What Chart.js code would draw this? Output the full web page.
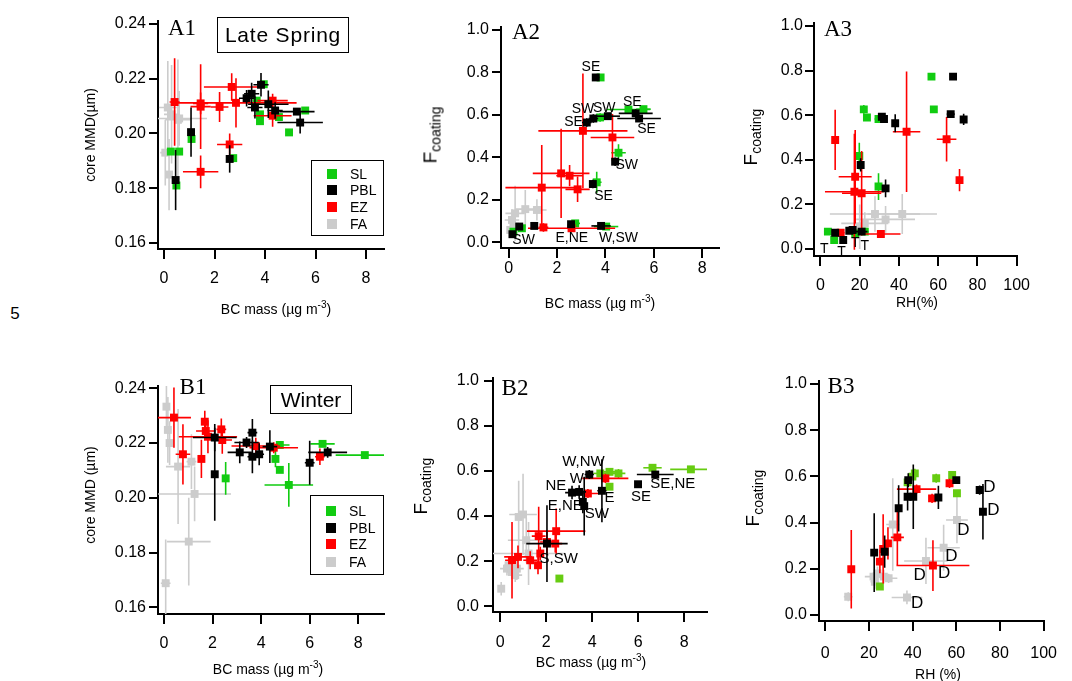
<!DOCTYPE html>
<html>
<head>
<meta charset="utf-8">
<script src="https://cdn.jsdelivr.net/npm/chart.js@4.4.0/dist/chart.umd.min.js"></script>
<style>
  body { margin: 0; background: #fff; width: 1072px; height: 681px; position: relative; overflow: hidden;
         font-family: 'Liberation Sans', Arial, sans-serif; color: #000; }
  canvas { position: absolute; }
  .t { position: absolute; white-space: nowrap; font-size: 14px; line-height: 1; transform: translate(-50%, -50%); }
  .rot { transform: translate(-50%, -50%) rotate(-90deg); }
  .t sup { font-size: 10px; line-height: 0; vertical-align: 6px; }
  .ft { font-size: 19px; }
  .ft sub { font-size: 14px; line-height: 0; vertical-align: -4px; }
  .pl { position: absolute; font-family: 'Liberation Serif', 'Times New Roman', serif; font-size: 23px;
        line-height: 1; transform: translate(-50%, -50%); }
  .box { position: absolute; border: 1.5px solid #000; box-sizing: border-box; }
  .title { display: flex; align-items: center; justify-content: center; font-size: 21px; }
  .leg div { position: absolute; left: 0; font-size: 14px; line-height: 1; }
  .leg span { position: absolute; width: 10px; height: 10px; }
</style>
</head>
<body>
<canvas id="a1"></canvas>
<canvas id="a2"></canvas>
<canvas id="a3"></canvas>
<canvas id="b1"></canvas>
<canvas id="b2"></canvas>
<canvas id="b3"></canvas>

<div class="t" style="left:15px;top:313px;font-size:17px">5</div>

<div class="pl" style="left:182px;top:27px">A1</div>
<div class="pl" style="left:526px;top:31px">A2</div>
<div class="pl" style="left:838px;top:28px">A3</div>
<div class="pl" style="left:193px;top:386px">B1</div>
<div class="pl" style="left:515px;top:387px">B2</div>
<div class="pl" style="left:841px;top:385px">B3</div>

<div class="box title" style="left:217px;top:17px;width:132px;height:36px;letter-spacing:0.8px">Late Spring</div>
<div class="box title" style="left:270px;top:385px;width:82px;height:29px">Winter</div>

<div class="t rot" style="left:90px;top:135px">core MMD(µm)</div>
<div class="t rot" style="left:90px;top:495px">core MMD (µm)</div>
<div class="t rot ft" style="left:430px;top:135px">F<sub>coating</sub></div>
<div class="t rot ft" style="left:750px;top:137px">F<sub>coating</sub></div>
<div class="t rot ft" style="left:420px;top:486px">F<sub>coating</sub></div>
<div class="t rot ft" style="left:752px;top:498px">F<sub>coating</sub></div>

<div class="t" style="left:276px;top:309px">BC mass (µg m<sup>-3</sup>)</div>
<div class="t" style="left:600px;top:303px">BC mass (µg m<sup>-3</sup>)</div>
<div class="t" style="left:917px;top:302px">RH(%)</div>
<div class="t" style="left:268px;top:669px">BC mass (µg m<sup>-3</sup>)</div>
<div class="t" style="left:591px;top:662px">BC mass (µg m<sup>-3</sup>)</div>
<div class="t" style="left:938px;top:674px">RH (%)</div>

<div class="box leg" id="legA" style="left:311px;top:160px;width:73px;height:76px"></div>
<div class="box leg" id="legB" style="left:310px;top:495px;width:74px;height:80px"></div>

<script>
const seriesNames = ['SL', 'PBL', 'EZ', 'FA']
const seriesColors = ['#11cc11', '#000000', '#ff0000', '#cccccc']
const greenB = '#66cc11'

const bcTicks = [0, 2, 4, 6, 8]
const rhTicks = [0, 20, 40, 60, 80, 100]
const mmdTicks = [0.16, 0.18, 0.20, 0.22, 0.24]
const fTicks = [0, 0.2, 0.4, 0.6, 0.8, 1.0]

// rows: [x, y, x error, y error]
const a1SL = [[0.27,0.1934,0,0],[0.6,0.1934,0,0],[0.49,0.181,0,0],[1.09,0.198,0,0],[2.74,0.191,0,0],
  [3.8,0.207,0,0],[3.8,0.2045,0,0],[3.95,0.218,0,0],[3.67,0.212,0,0],[4.55,0.206,0,0],[4.95,0.2004,0,0],[5.59,0.2084,0,0]]
const a1PBL = [[0.46,0.183,0,0.011],[1.07,0.2005,0,0.009],[2.6,0.1907,0,0.005],[3.27,0.2129,0.3,0.003],
  [3.47,0.2145,0.3,0.004],[3.6,0.2095,0.3,0.004],[3.84,0.2178,0.3,0.0043],[4.13,0.2107,0.8,0.005],
  [4.4,0.2084,0.3,0.003],[5.26,0.208,0.7,0],[5.39,0.204,0.9,0.004]]
const a1EZ = [[0.42,0.2115,0.2,0.016],[1.45,0.2098,0.4,0.0155],[1.45,0.211,0.3,0.004],[2.2,0.2097,0.35,0.0055],
  [2.68,0.217,1.1,0.005],[2.85,0.2112,2.4,0.009],[2.6,0.196,0.5,0.004],[1.45,0.186,0.7,0.006],
  [4.3,0.212,0.6,0.0025],[4.3,0.2065,0.75,0.004]]
const a1FA = [[0.15,0.2095,0.35,0.017],[0.55,0.205,0.5,0.022],[0.05,0.193,0.2,0.012],[0.3,0.207,0.3,0.018],
  [0.2,0.185,0.15,0.013],[0.6,0.2055,1.1,0.01]]

const a2SL = [[3.8,0.775,0.1,0],[3.78,0.587,0.2,0.02],[4.95,0.624,0.9,0],[5.57,0.626,0.3,0],[4.54,0.421,0.3,0.04],
  [3.64,0.282,0.2,0.05],[2.75,0.089,0.2,0],[4.03,0.074,0.5,0],[0.55,0.066,0,0],[0.2,0.05,0,0]]
const a2PBL = [[3.6,0.775,0.15,0],[3.23,0.563,0.2,0.02],[3.5,0.582,0.2,0.02],[4.1,0.593,0.5,0],[5.25,0.606,0.7,0.02],
  [5.39,0.582,0.9,0],[4.4,0.379,0.1,0.02],[3.48,0.274,0.1,0.02],[2.58,0.085,0.1,0],[3.82,0.077,0.4,0],
  [1.06,0.077,0.1,0],[0.44,0.074,0.1,0],[0.16,0.038,0.1,0]]
const a2EZ = [[3.07,0.524,1.84,0.27],[4.29,0.493,0.9,0.11],[2.17,0.324,1.17,0.21],[2.52,0.313,0.55,0.05],
  [1.37,0.257,1.5,0.2],[2.85,0.249,0.5,0.06],[1.44,0.07,0.2,0.02],[2.6,0.066,1.8,0]]
const a2FA = [[0.27,0.136,0.4,0.13],[0.69,0.156,0.4,0.09],[1.17,0.152,0.4,0.05],[0.14,0.105,0.3,0.05],
  [0.27,0.074,0.2,0.04],[0.07,0.058,0.1,0.03]]
const a2Dirs = [['SE',3.4,0.825],['SW',3.07,0.624],['SW',3.95,0.632],['SE',2.68,0.563],['SE',5.11,0.66],
  ['SE',5.7,0.53],['SW',4.88,0.363],['SE',3.92,0.218],['E,NE',2.61,0.019],['W,SW',4.54,0.019],['SW',0.62,0.011]]

const a3SL = [[56.6,0.773,1.5,0],[57.8,0.626,1,0],[22.1,0.626,1,0.02],[23.7,0.59,1,0],[29.6,0.583,2,0],
  [19.8,0.417,0.5,0.06],[29.6,0.28,1,0.06],[3.8,0.078,2,0],[7,0.04,1,0],[17.7,0.07,2,0],[22.6,0.078,2,0]]
const a3PBL = [[67.6,0.773,1.5,0],[66.4,0.605,2,0.01],[73,0.581,1,0.025],[31.3,0.593,2,0.01],[32.4,0.583,1.5,0.01],
  [38.1,0.564,1,0.04],[20.5,0.377,1,0.03],[33.2,0.272,1,0.04],[7.5,0.073,1,0],[11.6,0.04,1,0],
  [14.7,0.082,1,0],[16.4,0.085,1,0],[21,0.078,3,0]]
const a3EZ = [[7.5,0.489,0.5,0.135],[43.9,0.526,7,0.27],[64.3,0.492,5,0.1],[70.9,0.309,1.5,0.05],
  [17.7,0.324,8.4,0.21],[17.3,0.257,15,0.26],[21,0.25,10,0.19],[30.8,0.067,10,0],[10.3,0.073,2,0.01]]
const a3FA = [[27.8,0.157,23,0.08],[41.7,0.157,17.7,0.09],[33.2,0.133,15,0.06],[22.6,0.115,12,0.05],[20,0.1,4,0.1]]
const a3Dirs = [['T',2,0.0],['T',10.8,-0.016],['T',17.7,0.025],['T',22.6,0.015]]

const b1SL = [[2.54,0.2071,0.1,0.006],[4.59,0.2142,0.1,0.003],[4.77,0.2193,0.4,0.001],[4.77,0.2102,0.1,0],
  [5.14,0.2047,1.0,0.008],[6.53,0.2197,0.5,0.001],[8.27,0.2156,1.2,0.001]]
const b1PBL = [[2.09,0.2086,0.1,0.017],[2.09,0.222,0.9,0.005],[3.12,0.2166,0.5,0.004],[3.4,0.2202,0.5,0.002],
  [3.64,0.2238,0.2,0.005],[3.64,0.215,0.2,0.006],[3.92,0.2159,0.2,0.004],[4.36,0.2187,0.3,0.006],
  [6.0,0.2128,0.2,0.008],[6.74,0.2166,0.8,0.002]]
const b1EZ = [[0.41,0.2293,0.7,0.011],[0.78,0.2159,0.3,0.011],[1.54,0.2142,0.1,0.007],[1.68,0.2278,0.1,0.004],
  [1.72,0.2244,0.4,0.003],[1.81,0.2223,1.2,0.006],[2.36,0.225,0.2,0.004],[2.4,0.2211,0.4,0.005],
  [3.78,0.2189,1.0,0.003],[4.52,0.2183,1.0,0.002],[6.42,0.215,0.2,0.003]]
const b1FA = [[0.1,0.2333,0.1,0.008],[0.16,0.2248,0.1,0.012],[0.23,0.22,0.1,0.008],[0.58,0.2114,0.5,0.021],
  [1.13,0.2132,0.2,0.01],[1.26,0.2014,1.5,0.01],[1.02,0.184,0.9,0.016],[0.07,0.1688,0.2,0.016]]

const b2SL = [[2.57,0.123,0,0],[4.75,0.596,0.3,0.01],[5.14,0.589,0.3,0.02],[4.75,0.53,0.1,0],
  [6.62,0.614,0.4,0],[8.29,0.607,0.9,0],[4.35,0.589,0.3,0]]
const b2PBL = [[3.87,0.584,0.2,0.02],[6.74,0.584,0.8,0.01],[5.99,0.541,0.1,0],[3.12,0.504,0.3,0.03],
  [3.43,0.507,0.3,0.03],[3.59,0.463,0.1,0.05],[3.65,0.444,0.1,0.13],[4.42,0.512,0.2,0.14],[2.03,0.278,0.9,0.17]]
const b2EZ = [[4.57,0.567,1.0,0.02],[3.81,0.5,0.5,0.02],[2.43,0.333,1.27,0.1],[1.67,0.311,0.3,0.13],
  [2.03,0.285,0.3,0.05],[2.39,0.278,0.3,0.04],[0.77,0.219,0.6,0.05],[0.51,0.204,0.3,0.17],
  [1.64,0.182,0.1,0.04],[1.74,0.234,0.1,0.03],[1.3,0.204,0.3,0.04]]
const b2FA = [[0.99,0.407,0.6,0.18],[0.8,0.396,0.1,0.16],[1.13,0.293,0.8,0.1],[1.23,0.234,1.6,0.14],
  [0.72,0.167,0.3,0.05],[0.29,0.167,0.3,0.03],[0.5,0.152,0.2,0.03],[0.65,0.138,0.3,0.03],
  [0.04,0.078,0.1,0.03],[0.36,0.182,0.2,0.03]]
const b2Dirs = [['W,NW',3.62,0.64],['W',3.33,0.564],['NE',2.42,0.534],['E,NE',2.83,0.445],['SW',4.2,0.408],
  ['E',4.75,0.48],['S,SW',2.54,0.209],['SE',6.12,0.485],['SE,NE',7.5,0.541]]

const b3SL = [[41,0.613,1,0.02],[39.9,0.599,1,0],[37.7,0.574,1,0],[50.8,0.592,1,0.02],[58.1,0.606,1,0],
  [60.3,0.527,1,0],[25,0.123,1,0]]
const b3PBL = [[38,0.584,1,0.03],[60,0.584,1,0],[70.7,0.541,1,0.02],[72.2,0.447,0.5,0.12],[37.7,0.512,1,0.06],
  [40.3,0.512,1,0.14],[51.8,0.509,1,0.05],[33.6,0.462,0.5,0.1],[22.4,0.27,0.5,0.17],[27.2,0.274,0.5,0.07]]
const b3EZ = [[41.8,0.545,9,0.02],[48.9,0.505,1,0.02],[56.9,0.57,1,0.02],[33,0.336,3,0.12],[28.7,0.31,1,0.07],
  [26.5,0.286,1,0.15],[25,0.231,1,0.05],[11.9,0.198,0.5,0.17],[49.3,0.214,16.7,0.11]]
const b3FA = [[30.9,0.392,3,0.2],[60.3,0.411,5,0.1],[54.2,0.291,7.4,0.1],[46.1,0.234,10,0.1],[37.4,0.076,7,0.03],
  [10.5,0.079,2,0.02],[22.7,0.144,2,0.03],[23.9,0.18,2,0.03],[29,0.159,4,0.02],[26.8,0.166,3,0.03],[22.1,0.166,4,0.02]]
const b3Dirs = [['D',75.1,0.551],['D',77,0.452],['D',63.2,0.368],['D',57.8,0.255],['D',54.4,0.18],
  ['D',43.2,0.173],['D',42.1,0.05]]

// plot-area edges in page pixels, and axis ranges
const panels = [
  {id: 'a1', left: 158, top: 21, right: 384, bottom: 249, xMin: -0.238, xMax: 8.71, yMin: 0.1578, yMax: 0.2411,
   xt: bcTicks, yt: mmdTicks, yDig: 2, xPad: 11, yPad: 3, sets: [a1SL, a1PBL, a1EZ, a1FA], green: seriesColors[0], dirs: [], dirSize: 14},
  {id: 'a2', left: 501, top: 27, right: 719, bottom: 248, xMin: -0.313, xMax: 8.69, yMin: -0.0268, yMax: 1.0122,
   xt: bcTicks, yt: fTicks, yDig: 1, xPad: 2, yPad: 3, sets: [a2SL, a2PBL, a2EZ, a2FA], green: seriesColors[0], dirs: a2Dirs, dirSize: 14},
  {id: 'a3', left: 814, top: 23, right: 1025, bottom: 256, xMin: -3.29, xMax: 100.3, yMin: -0.0314, yMax: 1.0135,
   xt: rhTicks, yt: fTicks, yDig: 1, xPad: 11, yPad: 2, sets: [a3SL, a3PBL, a3EZ, a3FA], green: seriesColors[0], dirs: a3Dirs, dirSize: 14},
  {id: 'b1', left: 158, top: 386, right: 384, bottom: 614, xMin: -0.247, xMax: 9.06, yMin: 0.15755, yMax: 0.24084,
   xt: bcTicks, yt: mmdTicks, yDig: 2, xPad: 11, yPad: 3, sets: [b1SL, b1PBL, b1EZ, b1FA], green: seriesColors[0], dirs: [], dirSize: 14},
  {id: 'b2', left: 493, top: 378, right: 707, bottom: 612, xMin: -0.317, xMax: 8.99, yMin: -0.0253, yMax: 1.012,
   xt: bcTicks, yt: fTicks, yDig: 1, xPad: 12, yPad: 5, sets: [b2SL, b2PBL, b2EZ, b2FA], green: greenB, dirs: b2Dirs, dirSize: 15},
  {id: 'b3', left: 819, top: 381, right: 1055, bottom: 621, xMin: -2.88, xMax: 100.1, yMin: -0.026, yMax: 1.013,
   xt: rhTicks, yt: fTicks, yDig: 1, xPad: 14, yPad: 3, sets: [b3SL, b3PBL, b3EZ, b3FA], green: greenB, dirs: b3Dirs, dirSize: 17}
]

const YW = 100, XH = 55, PT = 15, PR = 15
const font = "'Liberation Sans', Arial, sans-serif"
Chart.defaults.font.family = font

const errorBars = {
  id: 'errorBars',
  beforeDatasetDraw(chart, args) {
    const {ctx, chartArea: a, scales: {x, y}} = chart
    const ds = chart.data.datasets[args.index]
    ctx.save()
    ctx.beginPath()
    ctx.rect(a.left, a.top, a.right - a.left, a.bottom - a.top)
    ctx.clip()
    ctx.strokeStyle = ds.backgroundColor
    ctx.lineWidth = 1.6
    ds.data.forEach(p => {
      const px = x.getPixelForValue(p.x), py = y.getPixelForValue(p.y)
      ctx.beginPath()
      if (p.xe) { ctx.moveTo(x.getPixelForValue(p.x - p.xe), py); ctx.lineTo(x.getPixelForValue(p.x + p.xe), py) }
      if (p.ye) { ctx.moveTo(px, y.getPixelForValue(p.y - p.ye)); ctx.lineTo(px, y.getPixelForValue(p.y + p.ye)) }
      ctx.stroke()
    })
    ctx.restore()
  }
}

const dirLabels = (items, size) => ({
  id: 'dirLabels',
  afterDatasetsDraw(chart) {
    const {ctx, scales: {x, y}} = chart
    ctx.save()
    ctx.fillStyle = '#000'
    ctx.font = size + 'px ' + font
    ctx.textAlign = 'center'
    ctx.textBaseline = 'middle'
    items.forEach(([t, vx, vy]) => ctx.fillText(t, x.getPixelForValue(vx), y.getPixelForValue(vy)))
    ctx.restore()
  }
})

panels.forEach(p => {
  const cv = document.getElementById(p.id)
  cv.width = p.right - p.left + YW + PR
  cv.height = p.bottom - p.top + PT + XH
  cv.style.left = (p.left - YW) + 'px'
  cv.style.top = (p.top - PT) + 'px'

  const colors = [p.green, seriesColors[1], seriesColors[2], seriesColors[3]]
  // dataset 0 is drawn on top, so order: PBL, EZ, SL, FA
  const order = [1, 2, 0, 3]
  const datasets = order.map(i => ({
    label: seriesNames[i],
    data: p.sets[i].map(([x, y, xe, ye]) => ({x, y, xe, ye})),
    backgroundColor: colors[i],
    pointStyle: 'rect',
    pointRadius: 5.6,
    borderWidth: 0,
    showLine: false
  }))

  new Chart(cv, {
    type: 'scatter',
    data: {datasets},
    options: {
      responsive: false,
      animation: false,
      devicePixelRatio: 1,
      events: [],
      layout: {padding: {top: PT, right: PR, left: 0, bottom: 0}},
      plugins: {legend: {display: false}, tooltip: {enabled: false}},
      scales: {
        x: {
          type: 'linear', min: p.xMin, max: p.xMax,
          afterBuildTicks: s => { s.ticks = p.xt.map(v => ({value: v})) },
          afterFit: s => { s.height = XH },
          border: {color: '#000', width: 2},
          grid: {drawOnChartArea: false, color: '#000', lineWidth: 2, tickLength: 10},
          ticks: {color: '#000', font: {size: 16}, padding: p.xPad - 1, autoSkip: false, maxRotation: 0,
                  callback: v => String(v)}
        },
        y: {
          type: 'linear', min: p.yMin, max: p.yMax,
          afterBuildTicks: s => { s.ticks = p.yt.map(v => ({value: v})) },
          afterFit: s => { s.width = YW },
          border: {color: '#000', width: 2},
          grid: {drawOnChartArea: false, color: '#000', lineWidth: 2, tickLength: 9},
          ticks: {color: '#000', font: {size: 16}, padding: p.yPad, autoSkip: false,
                  callback: v => Number(v).toFixed(p.yDig)}
        }
      }
    },
    plugins: [errorBars, dirLabels(p.dirs, p.dirSize)]
  })
})

// legends
const legRows = {legA: [13, 29, 46, 63], legB: [15, 32, 48, 66]}
Object.keys(legRows).forEach(id => {
  const box = document.getElementById(id)
  seriesNames.forEach((name, i) => {
    const sq = document.createElement('span')
    sq.style.left = '15px'
    sq.style.top = (legRows[id][i] - 5) + 'px'
    sq.style.background = seriesColors[i]
    const tx = document.createElement('div')
    tx.textContent = name
    tx.style.left = '38px'
    tx.style.top = (legRows[id][i] - 7) + 'px'
    box.append(sq, tx)
  })
})
</script>
</body>
</html>
